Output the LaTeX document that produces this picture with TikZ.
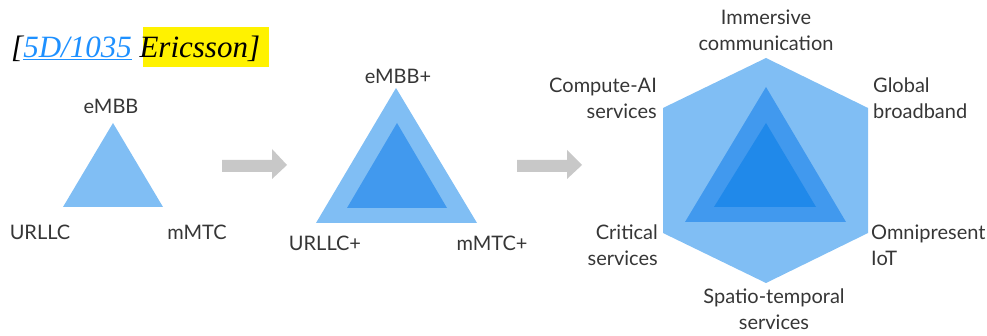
\documentclass[tikz,border=0pt]{standalone}
\usepackage{fontspec}
\setmainfont{Lato}
\newfontfamily\titlefont{Liberation Serif}
\definecolor{lblue}{HTML}{80BEF4}
\definecolor{mblue}{HTML}{4199EE}
\definecolor{dblue}{HTML}{2089EA}
\definecolor{txtgray}{HTML}{363636}
\definecolor{arrgray}{HTML}{C8C8C8}
\definecolor{linkblue}{HTML}{1E90FF}
\tikzset{
  lbl/.style={text=txtgray, font=\fontsize{20}{26}\selectfont, inner sep=0pt, align=center},
  lblr/.style={lbl, align=right},
  lbll/.style={lbl, align=left},
  grayarrow/.style={fill=arrgray, draw=none},
}
\begin{document}
\begin{tikzpicture}[x=1pt,y=-1pt]
\useasboundingbox (0,0) rectangle (987,336);
% title
\fill[yellow] (143,27) rectangle (269,67);
\node[anchor=base west, inner sep=0pt, font=\titlefont\itshape\fontsize{31}{36}\selectfont] (title) at (11,58)
  {[\textcolor{linkblue}{\underline{5D/1035}} Ericsson]};
% triangle 1
\fill[lblue] (113,123) -- (63,207) -- (163,207) -- cycle;
\node[lbl] (embb) at (111,106) {eMBB};
\node[lbl] (urllc) at (40,232) {URLLC};
\node[lbl] (mmtc) at (197,232) {mMTC};
% arrow 1
\fill[grayarrow] (222,160) -- (272,160) -- (272,149) -- (287,165) -- (272,179) -- (272,172) -- (222,172) -- cycle;
% triangle 2
\fill[lblue] (396,88) -- (316,223) -- (477,223) -- cycle;
\fill[mblue] (397,123) -- (347,208) -- (447,208) -- cycle;
\node[lbl] (embbp) at (398,76) {eMBB+};
\node[lbl] (urllcp) at (325,243) {URLLC+};
\node[lbl] (mmtcp) at (492,243) {mMTC+};
% arrow 2
\fill[grayarrow] (517,160) -- (567,160) -- (567,150) -- (582,165) -- (567,179) -- (567,172) -- (517,172) -- cycle;
% hexagon
\fill[lblue] (766,58) -- (868,108) -- (868,233) -- (766,283) -- (663,233) -- (663,108) -- cycle;
\fill[mblue] (766,87) -- (685,222) -- (846,222) -- cycle;
\fill[dblue] (766,123) -- (714,207) -- (816,207) -- cycle;
\node[lbl] (imm) at (766,30) {Immersive\\communication};
\node[lblr, anchor=east] (comp) at (657,98) {Compute-AI\\services};
\node[lbll, anchor=west] (glob) at (873,98) {Global\\broadband};
\node[lblr, anchor=east] (crit) at (658,245) {Critical\\services};
\node[lbll, anchor=west] (omni) at (871,245) {Omnipresent\\IoT};
\node[lbl] (spat) at (774,309) {Spatio-temporal\\services};
\end{tikzpicture}
\end{document}
